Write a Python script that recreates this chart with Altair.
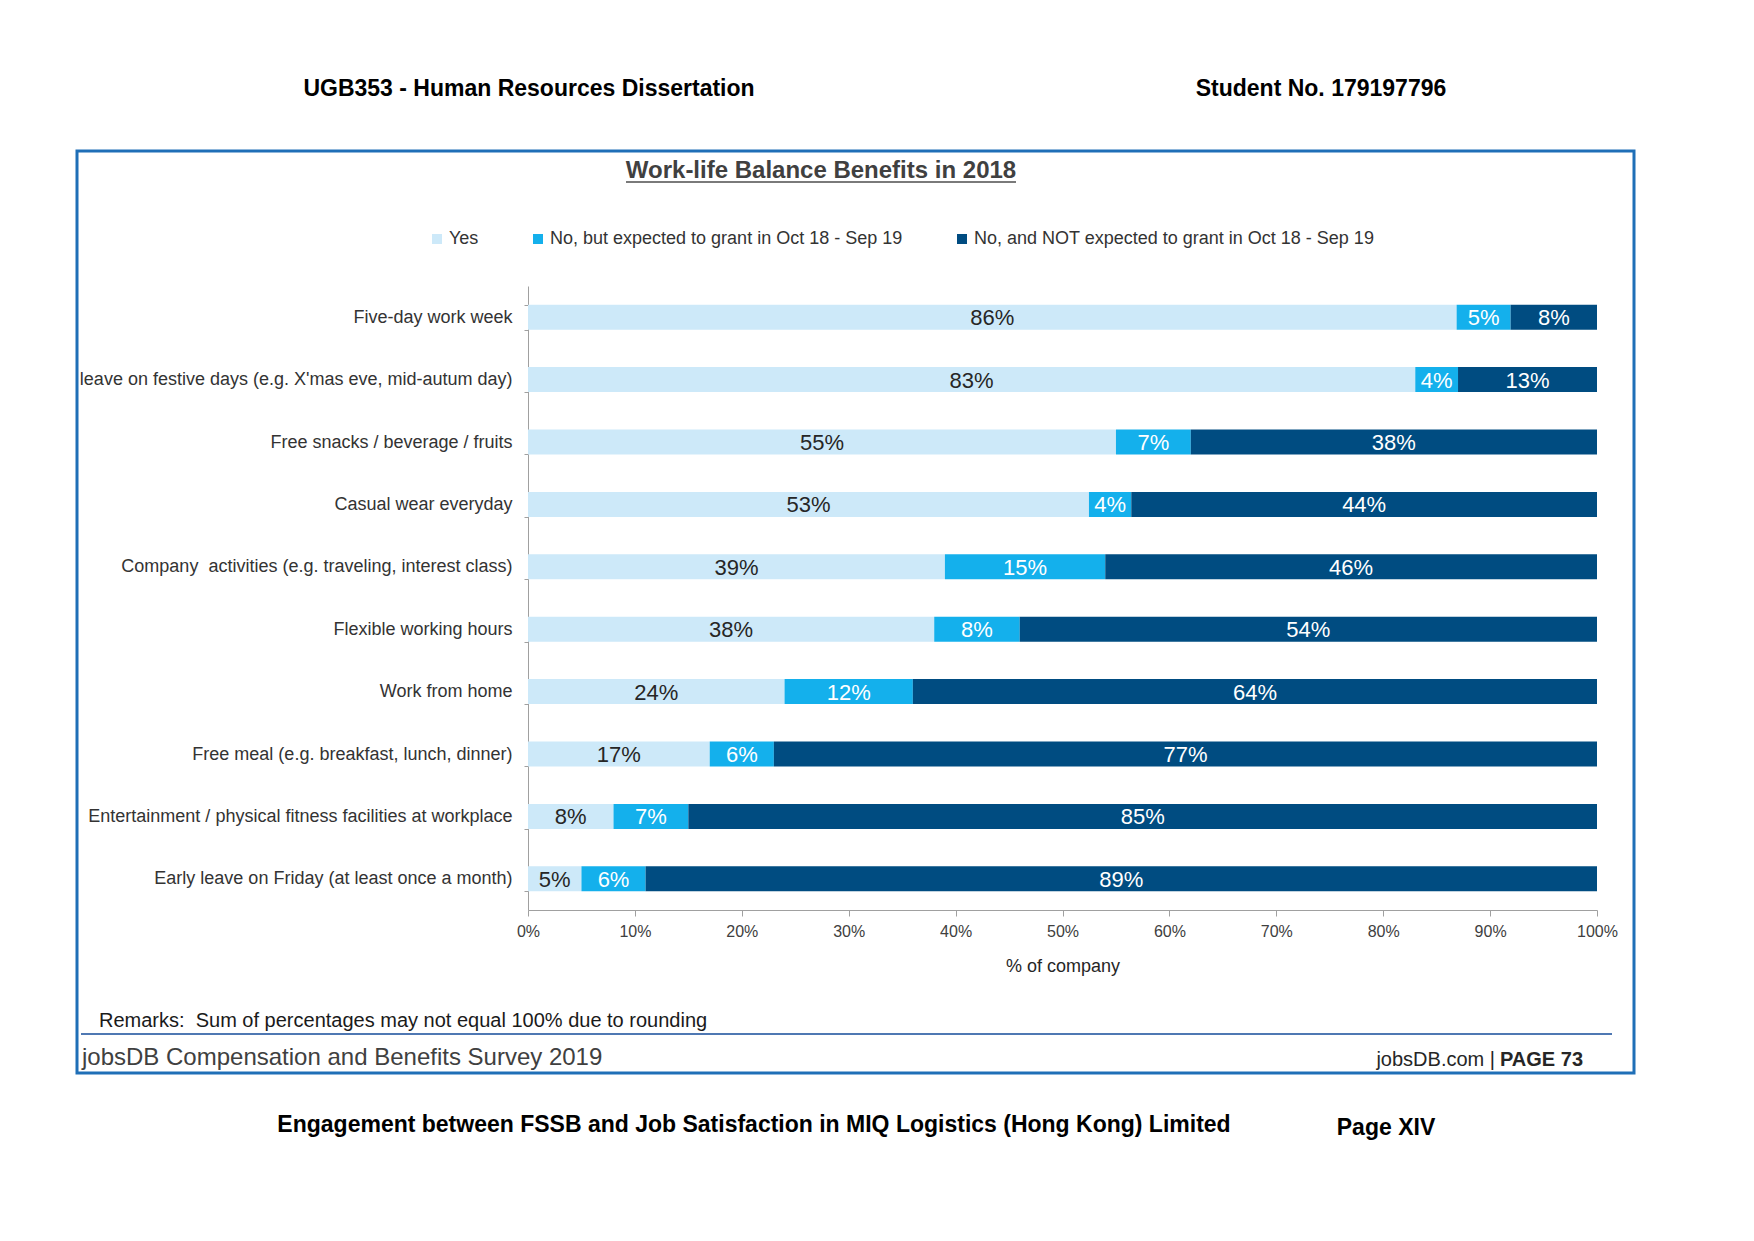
import altair as alt
import pandas as pd

categories = [
    "Five-day work week",
    "leave on festive days (e.g. X'mas eve, mid-autum day)",
    "Free snacks / beverage / fruits",
    "Casual wear everyday",
    "Company \u00a0activities (e.g. traveling, interest class)",
    "Flexible working hours",
    "Work from home",
    "Free meal (e.g. breakfast, lunch, dinner)",
    "Entertainment / physical fitness facilities at workplace",
    "Early leave on Friday (at least once a month)",
]
series = [
    "Yes",
    "No, but expected to grant in Oct 18 - Sep 19",
    "No, and NOT expected to grant in Oct 18 - Sep 19",
]
yes_vals = [86, 83, 55, 53, 39, 38, 24, 17, 8, 5]
nobut_vals = [5, 4, 7, 4, 15, 8, 12, 6, 7, 6]
not_vals = [8, 13, 38, 44, 46, 54, 64, 77, 85, 89]
colors = ["#cde9f9", "#14b0ec", "#004c81"]
label_colors = ["#262626", "#ffffff", "#ffffff"]

rows = []
for i, c in enumerate(categories):
    for j, (s, vals) in enumerate(zip(series, [yes_vals, nobut_vals, not_vals])):
        rows.append({"category": c, "series": s, "order": j, "value": vals[i],
                     "label": f"{vals[i]}%", "lcolor": label_colors[j]})
df = pd.DataFrame(rows)

FONT = "Liberation Sans"
W, H = 1069, 624
DY = 2

y_enc = alt.Y("category:N", sort=categories, title=None,
              scale=alt.Scale(paddingInner=0.6, paddingOuter=0.3),
              axis=alt.Axis(tickBand="extent", tickSize=4, tickColor="#a0a0a0",
                            domainColor="#a0a0a0", labelPadding=12,
                            labelFont=FONT, labelFontSize=18, labelColor="#333333",
                            labelLimit=600))

base = alt.Chart(df).transform_stack(
    stack="value", groupby=["category"], as_=["v0", "v1"],
    offset="normalize", sort=[alt.SortField("order")]
)

bars = base.mark_bar().encode(
    x=alt.X("v0:Q", scale=alt.Scale(domain=[0, 1], nice=False),
            axis=alt.Axis(format="%", values=[i / 10 for i in range(11)],
                          title="% of company", titleFont=FONT, titleFontSize=18,
                          titleFontWeight="normal", titleColor="#262626",
                          titlePadding=18, labelFont=FONT, labelFontSize=16,
                          labelColor="#404040", tickColor="#a0a0a0", tickSize=6,
                          domainColor="#a0a0a0", grid=False, labelPadding=7,
                          labelFlush=False)),
    x2="v1:Q",
    y=y_enc,
    color=alt.Color("series:N", scale=alt.Scale(domain=series, range=colors),
                    legend=alt.Legend(orient="none", legendX=-100, legendY=-56,
                                      direction="horizontal", title=None,
                                      symbolType="square", symbolSize=100,
                                      symbolStrokeWidth=0, labelFont=FONT,
                                      labelFontSize=18, labelColor="#333333",
                                      labelOffset=3, columnPadding=50,
                                      labelLimit=500)),
    order=alt.Order("order:Q"),
)

texts = base.transform_calculate(mid="(datum.v0 + datum.v1) / 2").mark_text(
    font=FONT, fontSize=22, baseline="middle", align="center", dy=1
).encode(
    x=alt.X("mid:Q"),
    y=alt.Y("category:N", sort=categories),
    text="label:N",
    color=alt.Color("lcolor:N", scale=None),
)

one = pd.DataFrame({"k": [0]})


def txt(s, x, y, size, weight="normal", align="center", color="#000000", font=FONT):
    return alt.Chart(one).mark_text(text=s, font=font, fontSize=size, fontWeight=weight,
                                    align=align, baseline="middle", color=color).encode(
        x=alt.value(x), y=alt.value(y + DY))


frame = alt.Chart(one).mark_rect(fill=None, stroke="#1f6fb7", strokeWidth=3).encode(
    x=alt.value(-451), x2=alt.value(1106), y=alt.value(-135), y2=alt.value(787))
underline = alt.Chart(one).mark_rule(color="#7a7a7a", strokeWidth=2).encode(
    x=alt.value(98), x2=alt.value(488), y=alt.value(-104))
sepline = alt.Chart(one).mark_rule(color="#4f78b3", strokeWidth=2).encode(
    x=alt.value(-447), x2=alt.value(1084), y=alt.value(748))

decor = [
    frame, underline, sepline,
    txt("UGB353 - Human Resources Dissertation", 1, -199, 23, "bold"),
    txt("Student No. 179197796", 793, -199, 23, "bold"),
    txt("Work-life Balance Benefits in 2018", 293, -117, 24, "bold", color="#404040"),
    txt("Remarks:\u00a0 Sum of percentages may not equal 100% due to rounding", -429, 733, 20,
        align="left", color="#1a1a1a"),
    txt("jobsDB Compensation and Benefits Survey 2019", -446, 770, 24, align="left",
        color="#404040"),
    txt("PAGE 73", 1055, 772, 20, "bold", align="right", color="#262626"),
    txt("jobsDB.com |", 967, 772, 20, align="right", color="#262626"),
    txt("Engagement between FSSB and Job Satisfaction in MIQ Logistics (Hong Kong) Limited",
        226, 837, 23, "bold"),
    txt("Page XIV", 858, 840, 23, "bold"),
]

chart = alt.layer(bars, texts, *decor).properties(
    width=W, height=H,
    autosize=alt.AutoSizeParams(type="none"),
    padding={"left": 520, "top": 278, "right": 140, "bottom": 250},
    background="white",
).configure_view(stroke=None)

chart.save("out.html", embed_options={"renderer": "svg", "actions": False})
